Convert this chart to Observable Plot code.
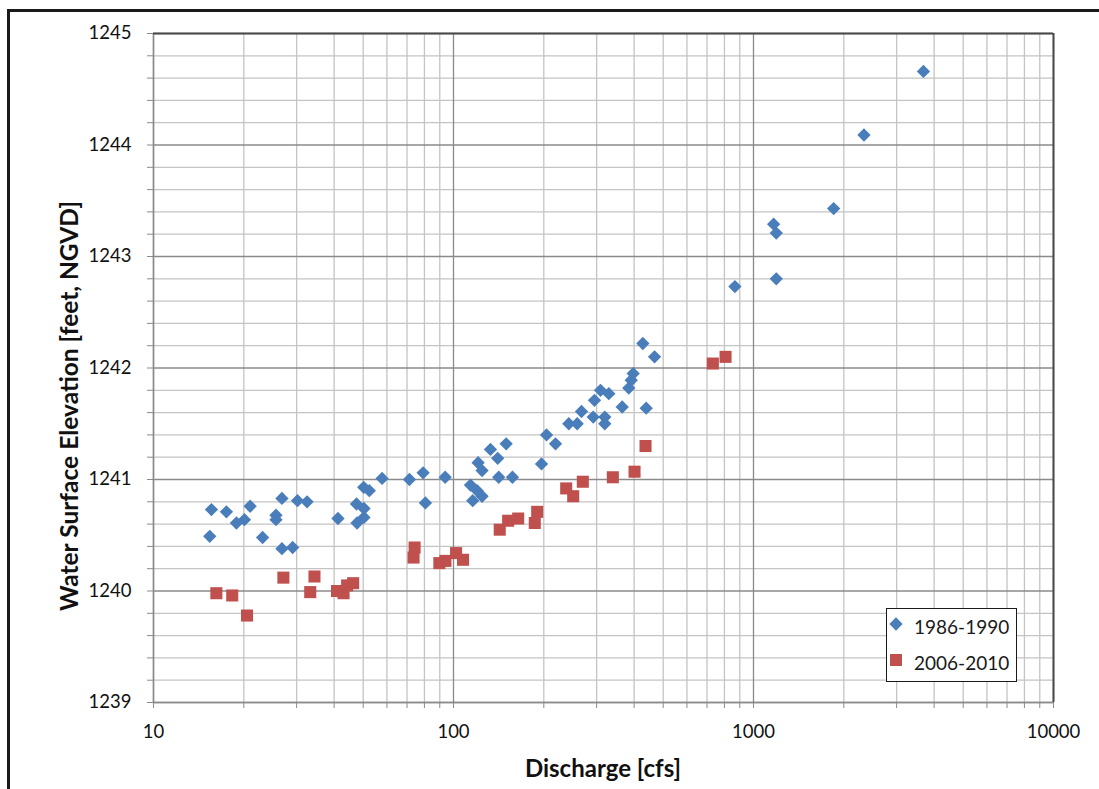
<!DOCTYPE html>
<html>
<head>
<meta charset="utf-8">
<script src="https://cdn.jsdelivr.net/npm/d3@7"></script>
<script src="https://cdn.jsdelivr.net/npm/@observablehq/plot@0.6"></script>
<style>
  html, body { margin: 0; padding: 0; background: #fff; }
  #wrap { position: relative; width: 1099px; height: 789px; overflow: hidden; }
  #wrap svg { position: absolute; left: 0; top: 0; }
  #border { position: absolute; left: 7px; top: 9px; width: 1200px; height: 900px;
            border-left: 3px solid #1a1a1a; border-top: 3px solid #1a1a1a; pointer-events: none; }
  #legend { position: absolute; left: 886px; top: 608px; width: 129px; height: 72px;
            background: #fff; border: 1.3px solid #1a1a1a; z-index: 5;
            font-family: Lato, 'Open Sans', sans-serif; font-size: 19px; color: #1a1a1a; }
  .lrow { position: absolute; left: 0; height: 24px; line-height: 24px; white-space: nowrap; }
  .lrow svg { position: absolute; left: 7px; top: 3px; }
  .lrow span { position: absolute; left: 27px; top: 0; }
</style>
</head>
<body>
<div id="wrap"><div id="legend"></div><div id="border"></div></div>
<script>
// ---- Data ----
const series = ["1986-1990", "2006-2010"];

const blueQ = [15.4, 15.6, 17.5, 18.9, 20.1, 21.0, 23.1, 25.6, 25.6, 26.8,
  26.8, 29.1, 30.2, 32.5, 41.2, 47.5, 47.7, 50.2, 50.3, 50.3,
  52.4, 57.8, 71.3, 79.2, 80.6, 93.8, 113.9, 119.9, 124.5, 115.9,
  120.8, 124.5, 132.8, 140.4, 149.8, 141.5, 157.2, 196.5, 204.2, 218.8,
  242.3, 258.4, 267.1, 292.2, 295.1, 309.0, 329.4, 319.4, 319.4, 365.0,
  384.0, 391.2, 397.2, 427.7, 467.9, 438.9, 867, 1167, 1191, 1191,
  1850, 2335, 3685];
const blueWSE = [1240.49, 1240.73, 1240.71, 1240.61, 1240.64, 1240.76, 1240.48, 1240.68, 1240.64, 1240.83,
  1240.38, 1240.39, 1240.81, 1240.80, 1240.65, 1240.78, 1240.61, 1240.93, 1240.74, 1240.66,
  1240.90, 1241.01, 1241.00, 1241.06, 1240.79, 1241.02, 1240.95, 1240.90, 1240.85, 1240.81,
  1241.15, 1241.08, 1241.27, 1241.19, 1241.32, 1241.02, 1241.02, 1241.14, 1241.40, 1241.32,
  1241.50, 1241.50, 1241.61, 1241.56, 1241.71, 1241.80, 1241.77, 1241.56, 1241.50, 1241.65,
  1241.82, 1241.89, 1241.95, 1242.22, 1242.10, 1241.64, 1242.73, 1243.29, 1243.21, 1242.80,
  1243.43, 1244.09, 1244.66];

const redQ = [16.2, 18.3, 20.5, 27.1, 33.3, 34.4, 40.9, 43.0, 44.2, 46.3,
  74.2, 73.6, 89.7, 94.0, 102.0, 107.6, 142.6, 152.1, 164.3, 186.6,
  190.1, 237.5, 250.6, 269.8, 339.7, 401.3, 436.6, 732, 807];
const redWSE = [1239.98, 1239.96, 1239.78, 1240.12, 1239.99, 1240.13, 1240.00, 1239.98, 1240.05, 1240.07,
  1240.39, 1240.30, 1240.25, 1240.27, 1240.34, 1240.28, 1240.55, 1240.63, 1240.65, 1240.61,
  1240.71, 1240.92, 1240.85, 1240.98, 1241.02, 1241.07, 1241.30, 1242.04, 1242.10];

const xTicks = [10, 100, 1000, 10000];
const yTicks = [1239, 1240, 1241, 1242, 1243, 1244, 1245];
const xLabel = "Discharge [cfs]";
const yLabel = "Water Surface Elevation [feet, NGVD]";

const colors = ["#4a7ebb", "#c0504d"];

// ---- Derived tables ----
const blue = blueQ.map((q, i) => ({q, wse: blueWSE[i]}));
const red = redQ.map((q, i) => ({q, wse: redWSE[i]}));

const xMinor = [];
for (let d = 0; d < xTicks.length - 1; d++)
  for (let k = 2; k <= 9; k++) xMinor.push(xTicks[d] * k);
const yMinor = [];
for (let d = 0; d < yTicks.length - 1; d++)
  for (let k = 1; k <= 4; k++) yMinor.push(+(yTicks[d] + k * 0.2).toFixed(1));

const MINOR = "#c4c4c4", MAJOR = "#8a8a8a", FONT = "Lato, 'Open Sans', sans-serif";
const R_DIAMOND = 6, R_SQUARE = 6.8;

const chart = Plot.plot({
  width: 1099, height: 789,
  marginLeft: 153, marginRight: 46, marginTop: 33, marginBottom: 87,
  style: {fontFamily: FONT, fontSize: "18.5px", color: "#111", background: "transparent"},
  x: {type: "log", domain: [10, 10000]},
  y: {domain: [1239, 1245]},
  marks: [
    Plot.ruleX(xMinor, {stroke: MINOR, strokeWidth: 1.3}),
    Plot.ruleY(yMinor, {stroke: MINOR, strokeWidth: 1.3}),
    Plot.ruleX(xTicks, {stroke: MAJOR, strokeWidth: 1.3}),
    Plot.ruleY(yTicks, {stroke: MAJOR, strokeWidth: 1.3}),
    Plot.axisY({ticks: yMinor, tickSize: 6, tickFormat: () => "", label: null, stroke: MAJOR}),
    Plot.axisX({ticks: xMinor, tickSize: 6, tickFormat: () => "", label: null, stroke: MAJOR}),
    Plot.axisY({ticks: yTicks, tickSize: 6, tickPadding: 16, tickFormat: d => String(d), label: null, stroke: MAJOR, fill: "#111"}),
    Plot.axisX({ticks: xTicks, tickSize: 6, tickPadding: 16, tickFormat: d => String(d), label: null, stroke: MAJOR, fill: "#111"}),
    Plot.ruleX([10], {stroke: MAJOR, strokeWidth: 1.5}),
    Plot.ruleY([1239], {stroke: MAJOR, strokeWidth: 1.5}),
    Plot.ruleX([10000], {stroke: "#4a4a4a", strokeWidth: 2}),
    Plot.ruleY([1245], {stroke: "#4a4a4a", strokeWidth: 2}),
    Plot.dot(blue, {x: "q", y: "wse", symbol: "diamond2", r: R_DIAMOND, fill: colors[0], stroke: "none"}),
    Plot.dot(red, {x: "q", y: "wse", symbol: "square", r: R_SQUARE, fill: colors[1], stroke: "none"})
  ]
});

const wrap = document.getElementById("wrap");
wrap.insertBefore(chart, wrap.firstChild);

const svg = d3.select(chart);
svg.append("text")
  .attr("transform", "translate(68,406) rotate(-90)")
  .attr("text-anchor", "middle").attr("dominant-baseline", "central")
  .attr("font-family", FONT).attr("font-weight", "bold").attr("font-size", 24.5)
  .attr("fill", "#111").text(yLabel);
svg.append("text")
  .attr("x", 603).attr("y", 767)
  .attr("text-anchor", "middle").attr("dominant-baseline", "central")
  .attr("font-family", FONT).attr("font-weight", "bold").attr("font-size", 24)
  .attr("fill", "#111").text(xLabel);

// Legend (HTML overlay)
const legend = d3.select("#legend");
const shapes = [d3.symbolDiamond2, d3.symbolSquare];
const sizes = [R_DIAMOND * R_DIAMOND * Math.PI, R_SQUARE * R_SQUARE * Math.PI];
const tops = [6, 42];
series.forEach((name, i) => {
  const row = legend.append("div").attr("class", "lrow").style("top", tops[i] + "px");
  row.append("svg").attr("width", 18).attr("height", 18)
    .append("path").attr("d", d3.symbol(shapes[i], sizes[i])())
    .attr("transform", "translate(9,9)").attr("fill", colors[i]);
  row.append("span").text(name);
});
</script>
</body>
</html>
